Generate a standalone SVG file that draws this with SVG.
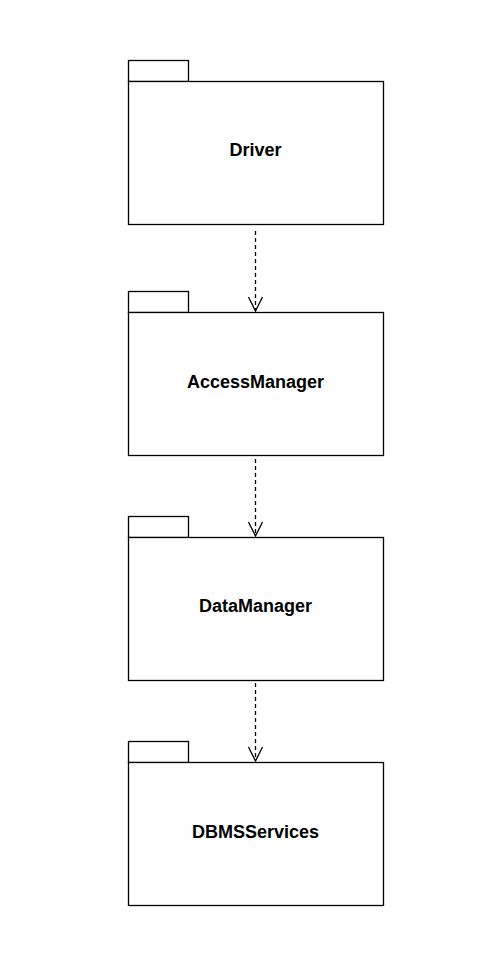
<svg xmlns="http://www.w3.org/2000/svg" width="498" height="958" viewBox="0 0 498 958">
<defs>
<style>
.pkg{fill:#fff;stroke:#000;stroke-width:1.3}
.lbl{font-family:"Liberation Sans",Arial,Helvetica,sans-serif;font-size:18px;font-weight:bold;text-anchor:middle;fill:#000}
.dep{stroke:#000;stroke-width:1.3;stroke-dasharray:4 3;fill:none}
.head{stroke:#000;stroke-width:1.3;fill:none}
</style>
</defs>
<rect width="498" height="958" fill="#fff"/>
<g id="Driver">
<rect class="pkg" x="128.5" y="60.5" width="60" height="21"/>
<rect class="pkg" x="128.5" y="81.5" width="255" height="143"/>
<text class="lbl" x="255.5" y="156">Driver</text>
</g>
<g id="AccessManager">
<rect class="pkg" x="128.5" y="291.5" width="60" height="21"/>
<rect class="pkg" x="128.5" y="312.5" width="255" height="143"/>
<text class="lbl" x="255.5" y="388">AccessManager</text>
</g>
<g id="DataManager">
<rect class="pkg" x="128.5" y="516.5" width="60" height="21"/>
<rect class="pkg" x="128.5" y="537.5" width="255" height="143"/>
<text class="lbl" x="255.5" y="612">DataManager</text>
</g>
<g id="DBMSServices">
<rect class="pkg" x="128.5" y="741.5" width="60" height="21"/>
<rect class="pkg" x="128.5" y="762.5" width="255" height="143"/>
<text class="lbl" x="255.5" y="838">DBMSServices</text>
</g>
<g id="connectors">
<line class="dep" x1="255.5" y1="231" x2="255.5" y2="311"/>
<polyline class="head" points="248.5,297 255.5,311 262.5,297"/>
<line class="dep" x1="255.5" y1="459" x2="255.5" y2="536"/>
<polyline class="head" points="248.5,522 255.5,536 262.5,522"/>
<line class="dep" x1="255.5" y1="683" x2="255.5" y2="761"/>
<polyline class="head" points="248.5,747 255.5,761 262.5,747"/>
</g>
</svg>
